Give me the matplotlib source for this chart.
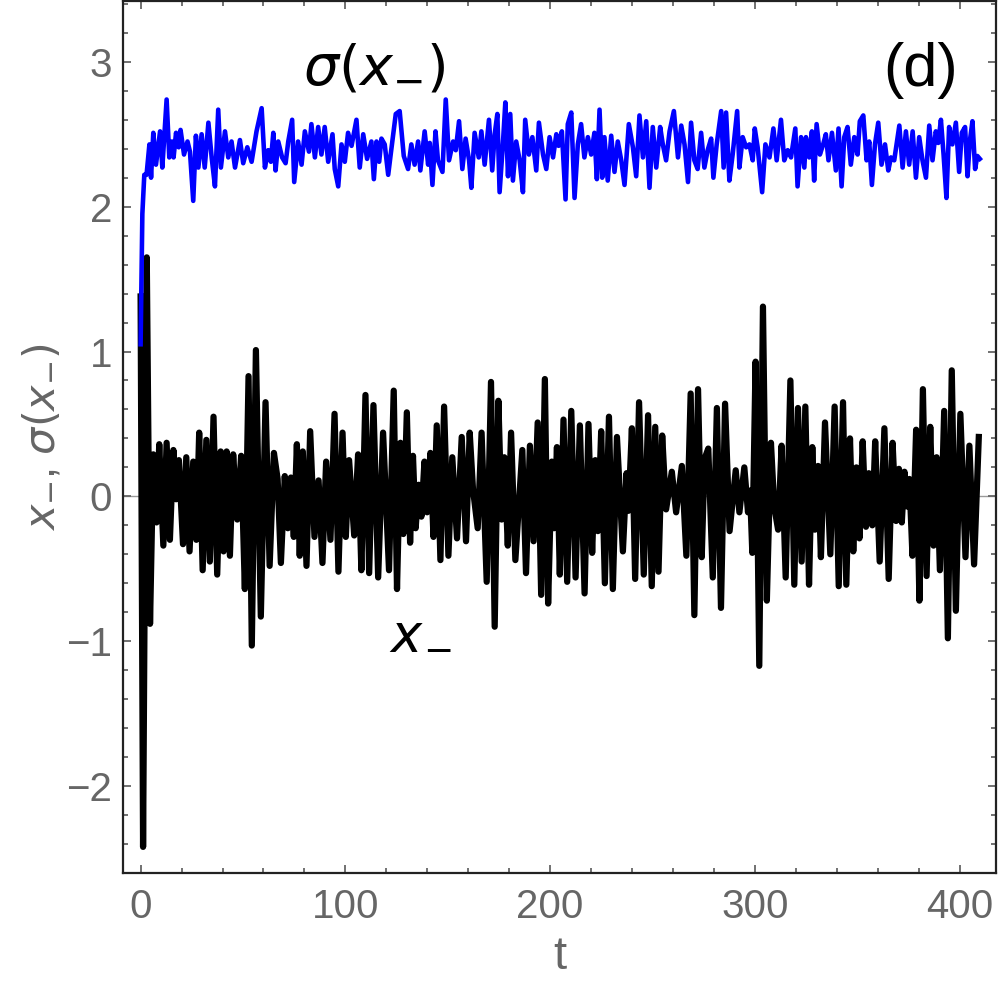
import matplotlib
matplotlib.use("Agg")
import matplotlib.pyplot as plt
from matplotlib.ticker import MultipleLocator

# x_- : times and values of the turning points
t_x = [0, 1.2, 3.0, 4.6, 6.2, 7.8, 9.1, 11.1, 12.7, 14.3,
       16.0, 17.3, 18.7, 20.7, 22.3, 23.9, 25.7, 27.2, 28.6, 30.3,
       32.1, 33.8, 35.6, 37.4, 39.1, 40.5, 42.0, 43.6, 45.2, 47.2,
       49.1, 50.9, 52.7, 54.3, 56.3, 58.7, 61.0, 63.0, 65.1, 66.9,
       68.5, 70.4, 71.9, 73.4, 74.8, 76.3, 77.7, 79.2, 81.0, 82.8,
       84.9, 86.9, 88.8, 90.6, 92.7, 94.7, 96.6, 98.6, 100.2, 101.8,
       104.3, 106.2, 107.8, 109.8, 111.6, 113.7, 116.0, 118.4, 121.3, 123.6,
       125.2, 126.9, 128.3, 130.0, 131.6, 133.0, 134.3, 135.8, 137.1, 138.6,
       139.9, 141.5, 143.0, 144.6, 146.4, 148.2, 150.3, 152.2, 154.5, 156.8,
       158.9, 160.7, 162.3, 164.6, 166.5, 169.0, 171.1, 172.9, 174.7, 176.3,
       177.6, 179.3, 180.9, 183.0, 186.4, 188.2, 190.1, 191.9, 193.9, 195.6,
       197.4, 199.0, 200.8, 201.9, 203.3, 204.7, 206.5, 208.3, 210.3, 212.4,
       214.5, 216.8, 218.7, 220.5, 222.0, 223.3, 224.9, 226.7, 228.7, 230.6,
       232.6, 235.5, 237.3, 238.2, 239.9, 241.5, 243.4, 245.7, 247.8, 249.6,
       251.3, 252.9, 254.7, 256.6, 259.4, 261.5, 264.3, 266.5, 268.6, 270.4,
       272.2, 274.0, 275.4, 277.2, 279.4, 281.4, 283.4, 285.4, 287.6, 290.6,
       292.4, 294.8, 296.6, 297.6, 298.7, 300.3, 302.1, 303.9, 305.8, 307.8,
       309.4, 311.3, 313.0, 315.0, 317.3, 319.2, 321.0, 322.8, 324.6, 326.4,
       328.0, 329.3, 330.8, 332.2, 334.2, 336.8, 338.9, 340.9, 343.0, 344.6,
       346.4, 348.0, 349.5, 351.0, 352.6, 354.2, 355.6, 357.3, 358.7, 360.9,
       363.2, 365.3, 367.2, 368.9, 370.3, 371.7, 373.0, 374.3, 375.4, 376.9,
       378.7, 380.3, 382.0, 383.8, 385.6, 387.2, 388.7, 390.3, 392.4, 394.2,
       396.1, 398.1, 400.3, 402.8, 404.7, 407.0, 409.3]
x_minus = [1.38, -2.42, 1.65, -0.88, 0.29, -0.18, 0.36, -0.34, 0.37, -0.30,
           0.32, -0.02, 0.25, -0.33, 0.27, -0.38, 0.24, -0.30, 0.44, -0.51,
           0.39, -0.45, 0.55, -0.54, 0.31, -0.38, 0.31, -0.41, 0.29, -0.16,
           0.28, -0.64, 0.83, -1.03, 1.01, -0.83, 0.65, -0.48, 0.30, 0.12,
           -0.46, 0.14, -0.22, 0.13, -0.28, 0.36, -0.41, 0.31, -0.48, 0.45,
           -0.28, 0.11, -0.46, 0.24, -0.30, 0.57, -0.52, 0.44, -0.28, 0.25,
           -0.27, 0.29, -0.51, 0.70, -0.53, 0.63, -0.56, 0.44, -0.51, 0.73,
           -0.64, 0.37, -0.26, 0.58, -0.32, 0.28, -0.22, 0.08, -0.14, 0.24,
           -0.11, 0.30, -0.28, 0.49, -0.44, 0.62, -0.41, 0.27, -0.29, 0.41,
           -0.31, 0.44, 0.05, -0.22, 0.44, -0.59, 0.79, -0.90, 0.66, -0.16,
           0.27, -0.34, 0.44, -0.44, 0.32, -0.53, 0.35, -0.31, 0.51, -0.68,
           0.81, -0.74, 0.24, -0.22, 0.34, -0.54, 0.53, -0.59, 0.59, -0.56,
           0.49, -0.67, 0.50, -0.39, 0.25, -0.24, 0.45, -0.60, 0.55, -0.64,
           0.41, -0.38, 0.16, -0.10, 0.47, -0.57, 0.65, -0.54, 0.56, -0.62,
           0.48, -0.52, 0.42, -0.09, 0.17, -0.11, 0.21, -0.41, 0.71, -0.82,
           0.74, -0.42, 0.26, 0.33, -0.56, 0.61, -0.77, 0.64, -0.24, 0.18,
           -0.11, 0.20, -0.11, 0.04, -0.39, 0.93, -1.17, 1.31, -0.72, 0.37,
           -0.07, -0.23, 0.35, -0.56, 0.80, -0.61, 0.61, -0.45, 0.62, -0.61,
           0.34, -0.23, 0.21, -0.42, 0.51, -0.40, 0.62, -0.62, 0.65, -0.61,
           0.40, -0.38, 0.20, -0.29, 0.38, -0.21, 0.16, -0.20, 0.38, -0.45,
           0.47, -0.57, 0.37, -0.17, 0.19, -0.18, 0.17, -0.07, 0.12, -0.41,
           0.46, -0.72, 0.74, -0.55, 0.48, -0.34, 0.27, -0.51, 0.59, -0.98,
           0.87, -0.79, 0.57, -0.42, 0.35, -0.47, 0.41]

# sigma(x_-) : times and values of the turning points
t_s = [0, 0.85, 1.8, 2.9, 4.3, 5.1, 6.2, 7.5, 9.5, 10.6,
       12.7, 14.0, 15.3, 16.1, 17.3, 18.6, 19.5, 21.2, 22.9, 24.1,
       25.7, 27.0, 28.2, 29.8, 31.3, 33.1, 34.7, 36.3, 37.9, 39.2,
       41.2, 42.8, 44.4, 46.1, 48.5, 50.1, 52.1, 54.2, 56.6, 59.1,
       60.7, 62.3, 63.6, 64.8, 65.9, 67.2, 69.1, 70.8, 72.1, 74.0,
       75.0, 76.9, 78.6, 80.2, 82.2, 83.4, 85.1, 86.7, 88.3, 89.9,
       91.6, 93.7, 94.8, 96.5, 98.1, 99.7, 101.3, 103.0, 105.4, 107.0,
       108.7, 110.6, 112.7, 113.9, 115.2, 116.5, 117.6, 119.2, 120.9, 122.2,
       124.6, 126.5, 128.5, 130.6, 132.2, 133.8, 135.5, 136.6, 138.7, 140.4,
       141.2, 142.5, 144.0, 145.2, 147.4, 149.0, 150.6, 152.6, 153.9, 155.5,
       157.1, 158.7, 160.4, 161.5, 163.1, 165.1, 166.4, 168.0, 170.1, 171.7,
       172.9, 174.2, 175.3, 176.9, 178.1, 179.4, 180.5, 181.8, 183.4, 185.1,
       186.7, 187.8, 189.6, 191.3, 193.2, 194.5, 196.5, 198.1, 199.7, 201.4,
       203.0, 204.1, 205.7, 207.5, 208.6, 210.3, 211.9, 213.5, 215.1, 216.7,
       218.4, 220.0, 221.6, 222.8, 224.1, 225.4, 226.5, 228.1, 229.8, 231.4,
       233.0, 234.7, 236.3, 238.4, 240.4, 242.0, 243.6, 245.3, 246.9, 248.5,
       250.1, 251.8, 253.7, 255.0, 256.6, 258.3, 260.4, 262.4, 264.0, 265.6,
       267.3, 268.8, 270.4, 272.0, 273.7, 275.3, 276.9, 278.6, 279.7, 281.3,
       283.5, 284.7, 285.9, 287.5, 289.1, 291.3, 292.4, 294.0, 295.7, 297.3,
       298.9, 299.9, 301.3, 303.5, 305.1, 307.1, 309.0, 310.6, 312.7, 314.3,
       316.0, 317.6, 319.7, 320.8, 322.5, 324.1, 324.9, 326.5, 327.8, 328.9,
       330.1, 331.7, 333.3, 334.6, 335.9, 337.6, 339.5, 340.8, 342.3, 343.6,
       345.2, 346.8, 348.5, 350.1, 351.2, 352.9, 354.5, 355.8, 357.1, 358.6,
       360.2, 361.8, 363.5, 365.1, 366.4, 368.0, 370.5, 372.1, 373.7, 375.3,
       377.0, 378.6, 380.2, 381.8, 383.5, 385.1, 386.7, 388.3, 389.5, 390.8,
       392.1, 393.5, 394.8, 396.4, 398.1, 399.7, 401.0, 402.6, 403.8, 404.9,
       406.2, 407.5, 408.6, 409.8]
sigma = [1.05, 1.95, 2.22, 2.22, 2.43, 2.20, 2.51, 2.29, 2.52, 2.27,
         2.74, 2.34, 2.45, 2.34, 2.51, 2.41, 2.53, 2.36, 2.45, 2.38,
         2.04, 2.49, 2.27, 2.50, 2.27, 2.58, 2.34, 2.14, 2.67, 2.27,
         2.52, 2.34, 2.45, 2.27, 2.46, 2.30, 2.41, 2.31, 2.52, 2.68,
         2.27, 2.39, 2.31, 2.51, 2.25, 2.45, 2.34, 2.30, 2.45, 2.60,
         2.17, 2.45, 2.29, 2.52, 2.38, 2.57, 2.34, 2.55, 2.36, 2.55,
         2.31, 2.50, 2.26, 2.14, 2.43, 2.31, 2.51, 2.42, 2.60, 2.27,
         2.50, 2.33, 2.45, 2.19, 2.45, 2.31, 2.47, 2.43, 2.22, 2.37,
         2.64, 2.66, 2.35, 2.26, 2.43, 2.29, 2.45, 2.25, 2.52, 2.29,
         2.44, 2.15, 2.52, 2.32, 2.24, 2.74, 2.32, 2.45, 2.39, 2.59,
         2.26, 2.47, 2.32, 2.13, 2.51, 2.34, 2.52, 2.29, 2.60, 2.25,
         2.50, 2.64, 2.10, 2.43, 2.72, 2.21, 2.64, 2.18, 2.45, 2.32,
         2.10, 2.60, 2.36, 2.48, 2.25, 2.58, 2.36, 2.26, 2.48, 2.34,
         2.50, 2.42, 2.52, 2.05, 2.57, 2.65, 2.06, 2.43, 2.57, 2.34,
         2.48, 2.36, 2.51, 2.19, 2.67, 2.20, 2.48, 2.18, 2.49, 2.24,
         2.45, 2.32, 2.15, 2.57, 2.41, 2.21, 2.63, 2.34, 2.59, 2.13,
         2.55, 2.27, 2.55, 2.43, 2.32, 2.52, 2.66, 2.34, 2.56, 2.43,
         2.17, 2.58, 2.32, 2.26, 2.51, 2.27, 2.39, 2.47, 2.20, 2.43,
         2.66, 2.27, 2.65, 2.18, 2.36, 2.66, 2.27, 2.48, 2.41, 2.43,
         2.32, 2.54, 2.41, 2.10, 2.43, 2.34, 2.54, 2.32, 2.60, 2.32,
         2.39, 2.34, 2.54, 2.14, 2.48, 2.27, 2.48, 2.34, 2.52, 2.18,
         2.57, 2.36, 2.43, 2.50, 2.32, 2.51, 2.25, 2.54, 2.14, 2.48,
         2.55, 2.29, 2.48, 2.36, 2.59, 2.63, 2.32, 2.45, 2.15, 2.43,
         2.58, 2.29, 2.43, 2.25, 2.34, 2.32, 2.56, 2.27, 2.52, 2.29,
         2.52, 2.20, 2.48, 2.32, 2.20, 2.56, 2.32, 2.52, 2.44, 2.60,
         2.36, 2.06, 2.55, 2.43, 2.58, 2.24, 2.51, 2.55, 2.21, 2.45,
         2.59, 2.26, 2.35, 2.33]

gray = "#666666"
plt.rcParams["font.family"] = ["Liberation Sans Narrow", "Liberation Sans", "DejaVu Sans"]
plt.rcParams["mathtext.fontset"] = "dejavusans"

fig = plt.figure(figsize=(10, 9.98), dpi=100)
ax = fig.add_axes([0.123, 0.1253, 0.873, 0.8737])

ax.axhline(0, color="#9a9a9a", lw=1.0, zorder=1)
ax.plot(t_s, sigma, color="#0000ff", lw=3.3, solid_joinstyle="round", zorder=3)
ax.plot(t_x, x_minus, color="black", lw=4.5, solid_joinstyle="round", zorder=2)

ax.set_xlim(-8.6, 417.7)
ax.set_ylim(-2.60, 3.42)
ax.xaxis.set_major_locator(MultipleLocator(100))
ax.xaxis.set_minor_locator(MultipleLocator(20))
ax.yaxis.set_major_locator(MultipleLocator(1))
ax.yaxis.set_minor_locator(MultipleLocator(0.2))
ax.tick_params(which="both", direction="in", top=True, right=True,
               color=gray, width=1.3, labelcolor=gray, labelsize=29)
ax.tick_params(which="major", length=6)
ax.tick_params(which="minor", length=3.5)
ax.tick_params(axis="x", pad=11)
ax.tick_params(axis="y", pad=8)
for s in ax.spines.values():
    s.set_linewidth(1.6)
    s.set_color("#222222")

ax.set_xlabel("t", color=gray, fontsize=34, labelpad=6)
ax.set_ylabel(r"$x_{-}$, $\sigma(x_{-})$", color=gray, fontsize=31, labelpad=2)

ax.text(114, 2.95, r"$\sigma(x_{-})$", fontsize=40, ha="center", va="center")
ax.text(381, 2.94, "(d)", fontsize=44, ha="center", va="center",
        family=["Liberation Sans", "DejaVu Sans"])
# curve label x_- : italic x with a lowered minus after it
ax.text(130, -0.98, r"$x$", fontsize=38, ha="center", va="center", zorder=5)
ax.annotate("\u2212", xy=(130, -0.98), xytext=(12, -10),
            textcoords="offset points", fontsize=26, ha="left", va="center",
            family=["DejaVu Sans"], zorder=5)

fig.savefig("out.png", dpi=100)
